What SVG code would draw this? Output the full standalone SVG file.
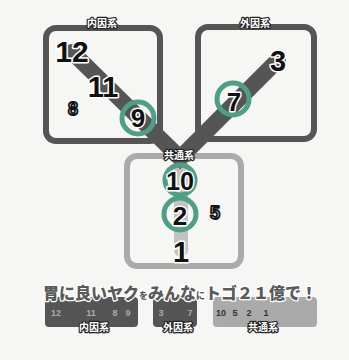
<svg xmlns="http://www.w3.org/2000/svg" width="349" height="360" viewBox="0 0 349 360">
<style>
.box{fill:none;stroke-width:6}
.num{font-family:"Liberation Sans",Arial,sans-serif;font-weight:bold;text-anchor:middle;fill:#111;stroke:#fff;stroke-width:3;paint-order:stroke;stroke-linejoin:round}
.out{font-family:"Liberation Sans",Arial,sans-serif;font-weight:bold;text-anchor:middle;fill:#fff;stroke:#111;stroke-width:1.8;stroke-linejoin:round}
.lab{font-family:"Noto Sans CJK JP",sans-serif;font-weight:bold;font-size:10px;text-anchor:middle;fill:#fff;stroke:#222;stroke-width:2.4;paint-order:stroke;stroke-linejoin:round}
.ring{fill:none;stroke:#4f9e85;stroke-width:5}
.small{font-family:"Liberation Sans",Arial,sans-serif;font-weight:bold;font-size:9px;text-anchor:middle}
</style>
<rect width="349" height="360" fill="#f6f6f4"/>
<g id="box-naiin"><rect class="box" x="46" y="28" width="114" height="113" rx="10" stroke="#555"/></g>
<g id="box-gaiin"><rect class="box" x="198" y="27" width="116" height="112" rx="10" stroke="#555"/></g>
<g id="box-kyotsu"><rect class="box" x="127" y="156" width="114" height="110" rx="10" stroke="#aaa"/></g>
<g id="connectors">
<line x1="181" y1="160" x2="181" y2="250" stroke="#c2c2c2" stroke-width="14" stroke-linecap="round"/>
<polyline points="72,52 180,158 278,60" fill="none" stroke="#555" stroke-width="16" stroke-linejoin="miter" stroke-linecap="round"/>
</g>
<g id="label-naiin"><text class="lab" x="102" y="27">内因系</text></g>
<g id="label-gaiin"><text class="lab" x="255" y="27">外因系</text></g>
<g id="label-kyotsu"><text class="lab" x="179" y="159">共通系</text></g>
<g id="n12"><text class="num" x="72" y="62" font-size="30">12</text></g>
<g id="n11"><text class="num" x="103" y="97" font-size="29">11</text></g>
<g id="n8" opacity="0.99"><text class="out" x="73" y="115" font-size="18">8</text></g>
<g id="n9"><circle class="ring" cx="138" cy="118" r="16"/><text class="num" x="138" y="127" font-size="26">9</text></g>
<g id="n3"><text class="num" x="278" y="71" font-size="29">3</text></g>
<g id="n7"><circle class="ring" cx="233" cy="99" r="16"/><text class="num" x="234" y="111" font-size="26">7</text></g>
<g id="n10"><circle class="ring" cx="180" cy="180" r="15"/><text class="num" x="180" y="190" font-size="25" textLength="28" lengthAdjust="spacingAndGlyphs">10</text></g>
<g id="n2"><circle class="ring" cx="180" cy="214" r="16"/><text class="num" x="180" y="225" font-size="26">2</text></g>
<g id="n5" opacity="0.99"><text class="out" x="215" y="219" font-size="18">5</text></g>
<g id="n1"><text class="num" x="181" y="262" font-size="29">1</text></g>
<g id="legend">
<rect x="45" y="297" width="93" height="30" rx="4" fill="#555"/>
<rect x="153" y="297" width="44" height="30" rx="4" fill="#555"/>
<rect x="213" y="297" width="104" height="30" rx="4" fill="#aaa"/>
<text class="small" fill="#aaa" y="316"><tspan x="56">12</tspan><tspan x="91">11</tspan><tspan x="115">8</tspan><tspan x="128">9</tspan></text>
<text class="small" fill="#aaa" y="316"><tspan x="161">3</tspan><tspan x="190">7</tspan></text>
<text class="small" fill="#333" y="316"><tspan x="221">10</tspan><tspan x="235">5</tspan><tspan x="249">2</tspan><tspan x="266">1</tspan></text>
<text class="lab" x="94" y="331">内因系</text>
<text class="lab" x="178" y="331">外因系</text>
<text class="lab" x="263" y="331">共通系</text>
<text x="180" y="299" text-anchor="middle" font-family="'Noto Sans CJK JP',sans-serif" font-weight="900" font-size="16" fill="#5a5a5a" stroke="#fff" stroke-width="2.5" paint-order="stroke" stroke-linejoin="round">胃に良いヤク<tspan font-size="9">を</tspan>みんな<tspan font-size="9">に</tspan>トゴ２１億で！</text>
</g>
</svg>
